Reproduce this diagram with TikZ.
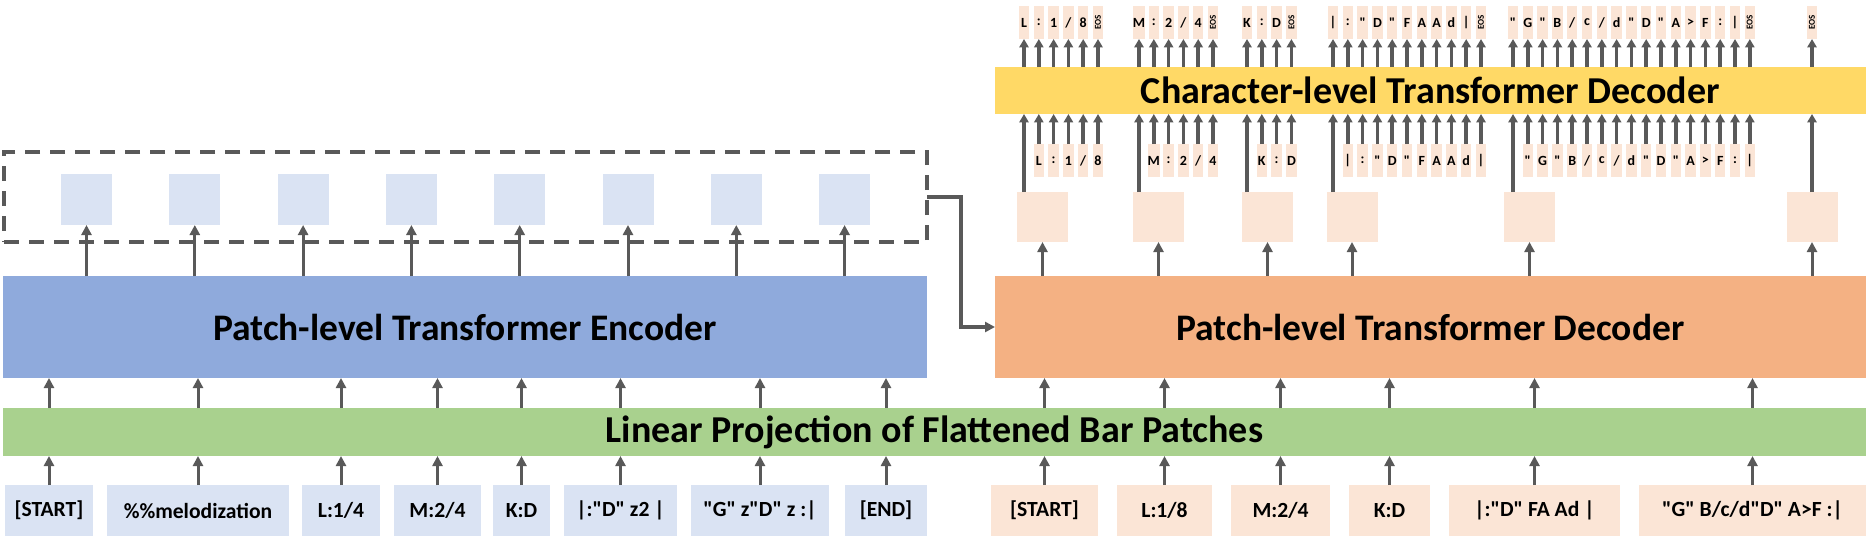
\documentclass[tikz,border=0pt]{standalone}
\usepackage{fontspec}
\usepackage{graphicx}
\setmainfont{Carlito}[Ligatures=TeXOff]
\usetikzlibrary{arrows.meta}
\definecolor{encblue}{HTML}{8FAADC}
\definecolor{lightblue}{HTML}{DAE3F3}
\definecolor{decorange}{HTML}{F4B183}
\definecolor{lightorange}{HTML}{FBE5D6}
\definecolor{lingreen}{HTML}{A9D18E}
\definecolor{chryellow}{HTML}{FFD966}
\definecolor{arrgray}{HTML}{595959}
\tikzset{
  blk/.style={inner sep=0pt, outer sep=0pt, anchor=center},
  bigtitle/.style={blk, font=\bfseries\fontsize{18.75}{20}\selectfont},
  chrtitle/.style={blk, font=\bfseries\fontsize{19}{20}\selectfont},
  lintitle/.style={blk, font=\bfseries\fontsize{19}{20}\selectfont},
  inbox/.style={blk, minimum height=25.5pt, font=\bfseries\fontsize{10.8}{12}\selectfont},
  sqb/.style={blk, fill=lightblue, minimum width=25.5pt, minimum height=25.5pt},
  sqo/.style={blk, fill=lightorange, minimum width=25.5pt, minimum height=25pt},
  tok/.style={blk, fill=lightorange, minimum width=5.25pt, minimum height=16.5pt, font=\bfseries\fontsize{7}{8}\selectfont},
  eostok/.style={tok, font=\bfseries\fontsize{4.5}{5}\selectfont},
  arr/.style={draw=arrgray, line width=1.5pt, -{Triangle[width=5pt,length=5pt]}},
  arrc/.style={draw=arrgray, line width=1.8pt, -{Triangle[width=4.6pt,length=4.2pt]}},
  dashbox/.style={blk, draw=arrgray, line width=1.65pt, dash pattern=on 7.5pt off 5pt},
}
\newcommand\tokgroup[5]{%
  \foreach \tk [count=\i] in {#3}{%
    \node[tok] (#1u\i) at ({#2+(\i-1)*14.8},22.5) {\tk};
    \node[tok] (#1l\i) at ({#2+\i*14.8},160.5) {\tk};
    \draw[arrc] (#1u\i |- chr.north) -- (#1u\i.south);
    \draw[arrc] (#1l\i.north) -- (#1l\i |- chr.south);
  }
  \node[eostok] (#1e) at ({#2+#4*14.8},22.5) {\rotatebox{90}{EOS}};
  \draw[arrc] (#1e |- chr.north) -- (#1e.south);
  \draw[arrc] (#1u1 |- #5.north) -- (#1u1 |- chr.south);
}
\begin{document}
\begin{tikzpicture}[x=0.5pt, y=-0.5pt]
\useasboundingbox (0,0) rectangle (1874,541);
% main blocks
\node[bigtitle, fill=encblue, minimum width=462pt, minimum height=51pt] (enc) at (465,327) {Patch-level Transformer Encoder};
\node[bigtitle, fill=decorange, minimum width=435.5pt, minimum height=51pt] (dec) at (1430.5,327) {Patch-level Transformer Decoder};
\node[lintitle, fill=lingreen, minimum width=931.5pt, minimum height=24pt] (lin) at (934.5,432) {Linear Projection of Flattened Bar Patches};
\node[chrtitle, fill=chryellow, minimum width=435.5pt, minimum height=23.5pt] (chr) at (1430.5,90.5) {Character-level Transformer Decoder};
% dashed box
\node[dashbox, minimum width=461.5pt, minimum height=45pt] (dash) at (465.5,197) {};
% bottom input boxes (encoder side)
\node[inbox, fill=lightblue, minimum width=44pt] (i1) at (49,510.5) {[START]};
\node[inbox, fill=lightblue, minimum width=91pt] (i2) at (198,510.5) {\%\%melodization};
\node[inbox, fill=lightblue, minimum width=39pt] (i3) at (341,510.5) {L:1/4};
\node[inbox, fill=lightblue, minimum width=43.5pt] (i4) at (437.5,510.5) {M:2/4};
\node[inbox, fill=lightblue, minimum width=28.5pt] (i5) at (521.5,510.5) {K:D};
\node[inbox, fill=lightblue, minimum width=56.5pt] (i6) at (620.5,510.5) {|:"D" z2 |};
\node[inbox, fill=lightblue, minimum width=69pt] (i7) at (760,510.5) {"G" z"D" z :|};
\node[inbox, fill=lightblue, minimum width=41pt] (i8) at (886,510.5) {[END]};
% bottom input boxes (decoder side)
\node[inbox, fill=lightorange, minimum width=53.5pt] (o1) at (1044.5,510.5) {[START]};
\node[inbox, fill=lightorange, minimum width=47.5pt] (o2) at (1164.5,510.5) {L:1/8};
\node[inbox, fill=lightorange, minimum width=49.5pt] (o3) at (1280.5,510.5) {M:2/4};
\node[inbox, fill=lightorange, minimum width=40.5pt] (o4) at (1389.5,510.5) {K:D};
\node[inbox, fill=lightorange, minimum width=85.5pt] (o5) at (1534.5,510.5) {|:"D" FA Ad |};
\node[inbox, fill=lightorange, minimum width=113.5pt] (o6) at (1752.5,510.5) {"G" B/c/d"D" A>F :|};
% arrows from inputs through linear projection
\foreach \n in {i1,i2,i3,i4,i5,i6,i7,i8}{
  \draw[arr] (\n.north) -- (\n |- lin.south);
  \draw[arr] (\n |- lin.north) -- (\n |- enc.south);
}
\foreach \n in {o1,o2,o3,o4,o5,o6}{
  \draw[arr] (\n.north) -- (\n |- lin.south);
  \draw[arr] (\n |- lin.north) -- (\n |- dec.south);
}
% encoder output squares
\foreach \i in {0,...,7}{
  \node[sqb] (bsq\i) at ({86.5+108.3*\i},199.5) {};
  \draw[arr] (bsq\i |- enc.north) -- (bsq\i.south);
}
% connector encoder -> decoder
\draw[draw=arrgray, line width=1.65pt, -{Triangle[width=5pt,length=5pt]}] (dash.east) -- ++(34,0) |- (dec.west);
% decoder output squares
\node[sqo] (dsq1) at (1042.5,217) {};
\node[sqo] (dsq2) at (1158.5,217) {};
\node[sqo] (dsq3) at (1267.5,217) {};
\node[sqo] (dsq4) at (1352,217) {};
\node[sqo] (dsq5) at (1529.5,217) {};
\node[sqo] (dsq6) at (1812,217) {};
\foreach \i in {1,...,6}{
  \draw[arr] (dsq\i |- dec.north) -- (dsq\i.south);
}
% character tokens
\tokgroup{ga}{1024}{L,:,1,/,8}{5}{dsq1}
\tokgroup{gb}{1139}{M,:,2,/,4}{5}{dsq2}
\tokgroup{gc}{1247}{K,:,D}{3}{dsq3}
\tokgroup{gd}{1333}{|,:,",D,",F,A,A,d,|}{10}{dsq4}
\tokgroup{ge}{1513}{",G,",B,/,c,/,d,",D,",A,>,F,:,|}{16}{dsq5}
\node[eostok] (gfe) at (1812,22.5) {\rotatebox{90}{EOS}};
\draw[arrc] (gfe |- chr.north) -- (gfe.south);
\draw[arrc] (dsq6.north) -- (dsq6 |- chr.south);
\end{tikzpicture}
\end{document}
